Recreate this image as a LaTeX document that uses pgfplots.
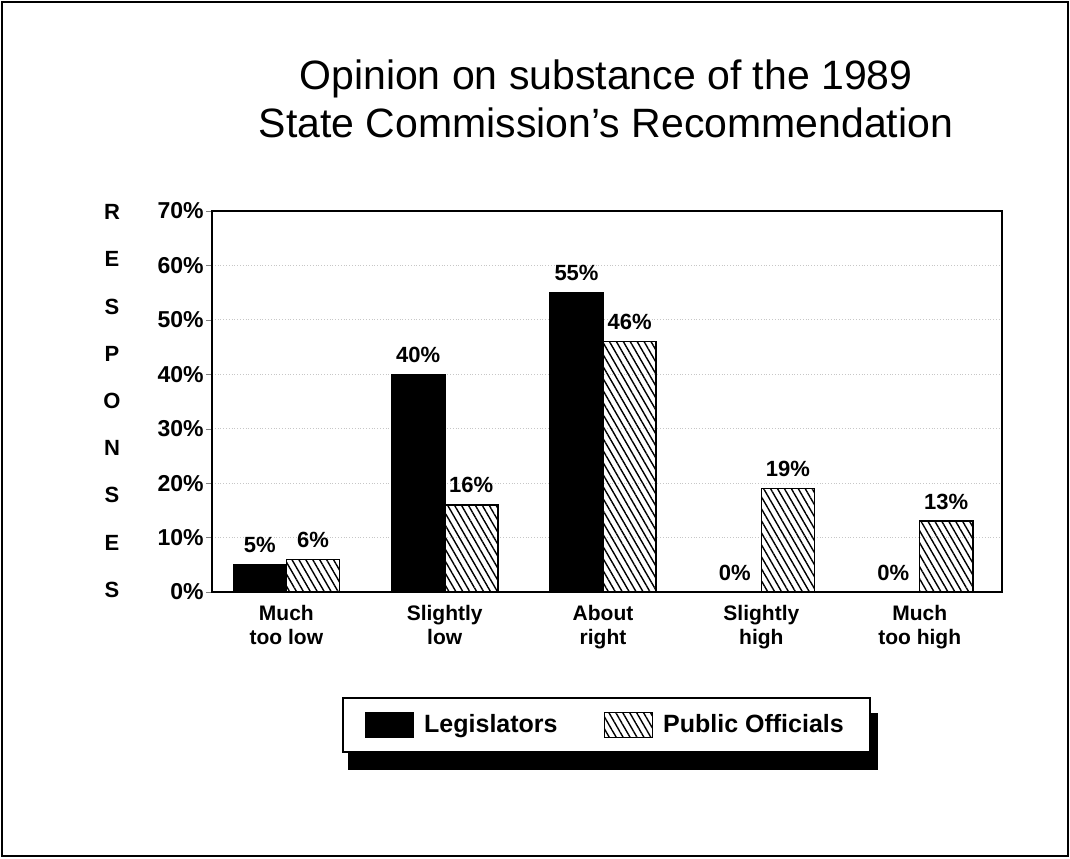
\documentclass[border=0pt]{standalone}
\usepackage{pgfplots}
\pgfplotsset{compat=1.18}
\usepackage{fontspec}
\setmainfont{Liberation Sans}
\usetikzlibrary{patterns,patterns.meta}
\begin{document}
\begin{tikzpicture}
\useasboundingbox (0pt,0pt) rectangle (535pt,-429pt);
\draw[line width=1pt] (1pt,-1pt) rectangle (534pt,-428pt);
\node[align=center,font=\fontsize{20.5}{24}\selectfont] at (303pt,-49.5pt)
  {Opinion on substance of the 1989\\State Commission's Recommendation};
\node[align=center,font=\bfseries\fontsize{11}{23.6}\selectfont] at (56pt,-200.5pt)
  {R\\E\\S\\P\\O\\N\\S\\E\\S};
% legend shadow
\fill[black] (174pt,-356.5pt) rectangle (439pt,-385pt);
\begin{axis}[
  at={(106pt,-296pt)}, anchor=south west,
  width=395pt, height=190.5pt, scale only axis,
  ybar=0pt, bar width=0.335,
  xmin=-0.47, xmax=4.52, ymin=0, ymax=70,
  xtick={0,1,2,3,4},
  xticklabels={Much\\too low, Slightly\\low, About\\right, Slightly\\high, Much\\too high},
  xticklabel style={align=center, font=\bfseries\fontsize{10.5}{12}\selectfont},
  x tick style={draw=none},
  ytick={0,10,...,70},
  yticklabels={0\%,10\%,20\%,30\%,40\%,50\%,60\%,70\%},
  yticklabel style={font=\bfseries\fontsize{11.5}{13}\selectfont, inner xsep=1pt},
  tick align=outside, ytick pos=left,
  major tick length=3pt,
  axis line style={line width=1pt},
  ymajorgrids, grid style={black!22, densely dotted},
  /pgf/number format/assume math mode=true,
  nodes near coords={\pgfmathprintnumber{\pgfplotspointmeta}\%},
  every node near coord/.append style={font=\bfseries\fontsize{11}{13}\selectfont, inner sep=2pt, yshift=3.5pt},
  legend image code/.code={\draw[#1] (0pt,-6.25pt) rectangle (24pt,6.25pt);},
  legend columns=2,
  legend style={at={(0.499,-0.349)}, anchor=center, draw=black, line width=1pt,
    fill=white, inner xsep=11pt, inner ysep=6pt,
    font=\bfseries\fontsize{12.5}{14}\selectfont,
    /tikz/every odd column/.append style={column sep=3pt},
    /tikz/every even column/.append style={column sep=21pt}},
]
\addplot[fill=black, draw=black, line width=0.8pt] coordinates {(0,5) (1,40) (2,55) (3,0) (4,0)};
\addplot[pattern={Lines[angle=-60,distance=3pt,line width=0.7pt]}, draw=black, line width=0.8pt] coordinates {(0,6) (1,16) (2,46) (3,19) (4,13)};
\legend{Legislators, Public Officials}
\end{axis}
\end{tikzpicture}
\end{document}
